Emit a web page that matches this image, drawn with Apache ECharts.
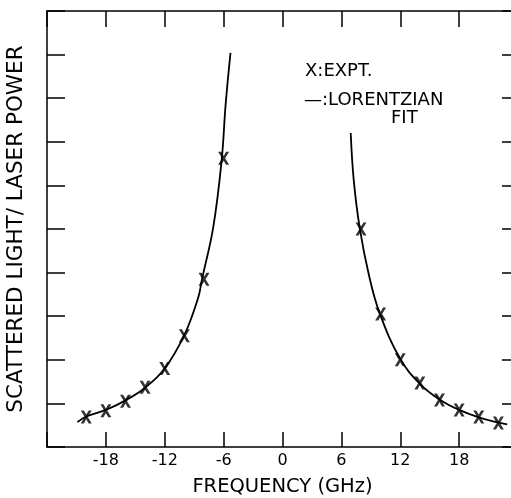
<!DOCTYPE html>
<html>
<head>
<meta charset="utf-8">
<script src="https://cdn.jsdelivr.net/npm/echarts@6/dist/echarts.min.js"></script>
<style>
  html, body { margin: 0; padding: 0; background: #fff; }
  #chart { width: 511px; height: 498px; }
</style>
</head>
<body>
<div id="chart"></div>
<script>
// tick labels shown on the frequency axis
const xTickLabels = ['-18', '-12', '-6', '0', '6', '12', '18'];

// measured points (x marks)
const exptLeftX = [-20, -18, -16, -14, -12, -10, -8, -6];
const exptLeftY = [0.69, 0.83, 1.05, 1.37, 1.80, 2.55, 3.85, 6.62];
const exptRightX = [8, 10, 12, 14, 16, 18, 20, 22];
const exptRightY = [5.0, 3.05, 2.0, 1.47, 1.08, 0.85, 0.69, 0.55];

// lorentzian fit
const fitLeftX = [-20.9, -20, -18, -16, -14, -12, -10, -8.6, -8.2, -7.05, -6.2, -5.8, -5.3];
const fitLeftY = [0.57, 0.70, 0.85, 1.07, 1.36, 1.80, 2.57, 3.42, 3.85, 5.05, 6.58, 7.84, 9.04];
const fitRightX = [6.95, 7.26, 7.87, 8.8, 9.9, 12, 14, 16, 18, 20, 22, 22.9];
const fitRightY = [7.2, 6.12, 5.02, 3.95, 3.07, 2.02, 1.45, 1.09, 0.85, 0.68, 0.56, 0.52];

const zip = (xs, ys) => xs.map((x, i) => [x, ys[i]]);

const FONT = '"DejaVu Sans", sans-serif';
// hand-lettered "X" marker
const xMark = 'path://M0,0L2.8,0L5,3.8L7.2,0L10,0L6.4,6L10,12L7.2,12L5,8.2L2.8,12L0,12L3.6,6Z';

const chart = echarts.init(document.getElementById('chart'), null, { renderer: 'canvas' });

const axisLine = { show: true, onZero: false, lineStyle: { color: '#000', width: 1.5 } };
const tick = len => ({ show: true, inside: true, length: len, lineStyle: { color: '#000', width: 1.5 } });

const option = {
  animation: false,
  backgroundColor: '#fff',
  grid: { left: 47, top: 11, right: -7, bottom: 51, containLabel: false, outerBoundsMode: 'none' },
  xAxis: [
    {
      type: 'value',
      position: 'bottom',
      min: -24,
      max: 24,
      interval: 6,
      axisLine: axisLine,
      axisTick: tick(15),
      splitLine: { show: false },
      axisLabel: {
        color: '#000',
        fontFamily: FONT,
        fontSize: 16,
        margin: 6,
        formatter: v => (xTickLabels.includes(String(v)) ? String(v) : '')
      },
      name: 'FREQUENCY (GHz)',
      nameLocation: 'middle',
      nameGap: 30,
      nameTextStyle: { color: '#000', fontFamily: FONT, fontSize: 19.5 }
    },
    {
      type: 'value',
      position: 'top',
      min: -24,
      max: 24,
      interval: 6,
      axisLine: axisLine,
      axisTick: tick(16),
      splitLine: { show: false },
      axisLabel: { show: false }
    }
  ],
  yAxis: [
    {
      type: 'value',
      position: 'left',
      min: 0,
      max: 10,
      interval: 1,
      axisLine: axisLine,
      axisTick: tick(18),
      splitLine: { show: false },
      axisLabel: { show: false },
      name: 'SCATTERED LIGHT/ LASER POWER',
      nameLocation: 'middle',
      nameGap: 20,
      nameRotate: 90,
      nameTextStyle: { color: '#000', fontFamily: FONT, fontSize: 21.5 }
    },
    {
      type: 'value',
      position: 'right',
      min: 0,
      max: 10,
      interval: 1,
      axisLine: axisLine,
      axisTick: tick(16),
      splitLine: { show: false },
      axisLabel: { show: false }
    }
  ],
  graphic: [
    { type: 'text', left: 305, top: 62, style: { text: 'X:EXPT.', font: '18px ' + FONT, fill: '#000' } },
    { type: 'text', left: 304, top: 91, style: { text: '\u2014:LORENTZIAN', font: '18px ' + FONT, fill: '#000' } },
    { type: 'text', left: 391, top: 109, style: { text: 'FIT', font: '18px ' + FONT, fill: '#000' } }
  ],
  series: [
    {
      type: 'line',
      data: zip(fitLeftX, fitLeftY),
      smooth: 0.4,
      showSymbol: false,
      lineStyle: { color: '#000', width: 1.8 }
    },
    {
      type: 'line',
      data: zip(fitRightX, fitRightY),
      smooth: 0.4,
      showSymbol: false,
      lineStyle: { color: '#000', width: 1.8 }
    },
    {
      type: 'scatter',
      data: zip(exptLeftX, exptLeftY).concat(zip(exptRightX, exptRightY)),
      symbol: xMark,
      symbolSize: [11, 13],
      itemStyle: { color: '#000' }
    }
  ]
};

chart.setOption(option);
</script>
</body>
</html>
